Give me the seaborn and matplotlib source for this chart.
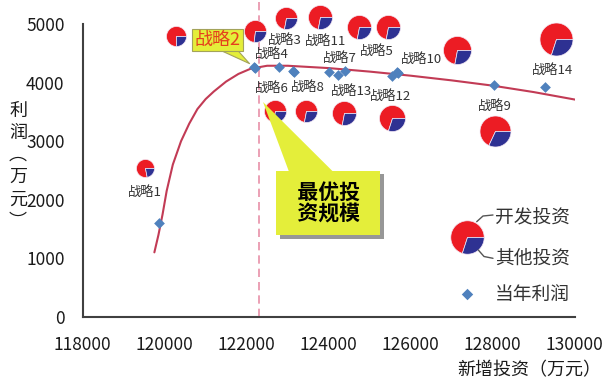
import numpy as np
import matplotlib
matplotlib.use("Agg")
import matplotlib.pyplot as plt
from matplotlib.path import Path
from matplotlib import patheffects
import seaborn as sns

# 当年利润 (diamonds) for each strategy
strategies = ["战略1", "战略2", "战略3", "战略4", "战略5", "战略6", "战略7",
	"战略8", "战略9", "战略10", "战略11", "战略12", "战略13", "战略14"]
invest = [119870, 122180, 122790, 122200, 125660, 123140, 124400,
	123150, 128040, 125700, 124010, 125540, 124230, 129280]
profit = [1600, 4270, 4270, 4260, 4190, 4200, 4200,
	4190, 3960, 4170, 4190, 4110, 4130, 3920]

# label anchor for each strategy name (same order as strategies)
label_x = [119520, 121290, 122940, 122610, 125170, 122610, 124280,
	123500, 128060, 126270, 123930, 125500, 124570, 129470]
label_y = [2115, 4730, 4730, 4490, 4530, 3905, 4420,
	3910, 3600, 4390, 4700, 3760, 3845, 4215]

# investment pies: position, relative total, share of 其他投资
pie_x = [119520, 120280, 122200, 122970, 123800, 124750, 125450,
	127140, 129540, 128060, 122690, 123460, 124380, 125540]
pie_y = [2540, 4800, 4880, 5100, 5120, 4960, 4960,
	4560, 4740, 3180, 3520, 3520, 3480, 3390]
pie_total = [9, 10, 11, 11, 12, 12, 12, 14, 16.5, 15.5, 11, 11, 12, 13]
other_share = [0.22, 0.25, 0.27, 0.28, 0.28, 0.28, 0.28,
	0.28, 0.30, 0.32, 0.28, 0.28, 0.28, 0.30]

# fitted profit curve
trend_x = [119750, 119850, 119950, 120050, 120200, 120400, 120600, 120800,
	121000, 121200, 121500, 121800, 122100, 122500, 123000, 124000,
	125000, 126000, 127000, 128000, 129000, 130100]
trend_y = [1100, 1400, 1750, 2150, 2600, 3000, 3300, 3550,
	3720, 3850, 4020, 4150, 4240, 4290, 4290, 4250,
	4190, 4120, 4040, 3950, 3840, 3700]

optimum_x = 122300
optimum_tip = (122400, 3670)
optimum_box = (123990, 1940)
s2_box = (121290, 4730)

RED = "#ec1c24"
BLUE = "#2e3192"
YELLOW = "#e4ee3a"
DARK = "#333333"

sns.set_style("white")
plt.rcParams["font.family"] = ["Noto Sans CJK SC", "DejaVu Sans"]
plt.rcParams["axes.unicode_minus"] = False


def wedge_marker(a0, a1):
	t = np.radians(np.linspace(a0, a1, 80))
	verts = np.vstack([[0, 0], np.column_stack([np.cos(t), np.sin(t)]), [0, 0]])
	return Path(verts, closed=True)


def draw_pie(ax, x, y, radius_px, share, **kw):
	s = (2 * radius_px * 0.72) ** 2
	cut = 360 * share
	ax.scatter([x], [y], marker=wedge_marker(0, 360 - cut), s=s, color=RED,
		edgecolor="#f4e8f4", linewidth=0.5, zorder=3, **kw)
	ax.scatter([x], [y], marker=wedge_marker(-cut, 0), s=s, color=BLUE,
		edgecolor="#f4e8f4", linewidth=0.5, zorder=3, **kw)


fig = plt.figure(figsize=(6.03, 3.79), dpi=100)
ax = fig.add_axes([0.137, 0.1644, 0.816, 0.8356])

ax.axvline(optimum_x, color="#e890a8", lw=1.2, ls=(0, (5, 3)), zorder=1)
sns.lineplot(x=trend_x, y=trend_y, color="#c23b55", lw=1.5, ax=ax, zorder=2)

for px_, py_, r, sh in zip(pie_x, pie_y, pie_total, other_share):
	draw_pie(ax, px_, py_, r, sh, clip_on=False)

sns.scatterplot(x=invest, y=profit, marker="D", s=30, color="#4f81bd",
	edgecolor="#4f81bd", linewidth=0, ax=ax, zorder=4)

for i, name in enumerate(strategies):
	if name == "战略2":
		continue
	ax.text(label_x[i], label_y[i], name, ha="center", va="center",
		fontsize=9.5, color=DARK, zorder=5)

# callouts
ax.annotate("战略2", xy=(invest[1], profit[1]), xytext=s2_box,
	ha="center", va="center", fontsize=13, color="#e5401d", zorder=6,
	bbox=dict(boxstyle="square,pad=0.12", fc=YELLOW, ec="#a3a35a", lw=0.8),
	arrowprops=dict(arrowstyle="wedge,tail_width=12,shrink_factor=0.5",
		mutation_scale=1, fc=YELLOW, ec="#a3a35a", lw=0.8,
		patchA=None, shrinkA=0, shrinkB=4))

opt = ax.annotate("\u2002最优投\u2002\n\u2002资规模\u2002", xy=optimum_tip, xytext=optimum_box,
	ha="center", va="center", fontsize=15, fontweight="bold", color="black",
	linespacing=1.1, zorder=6,
	bbox=dict(boxstyle="square,pad=0.5", fc=YELLOW, ec="none"),
	arrowprops=dict(arrowstyle="wedge,tail_width=38,shrink_factor=0.5",
		mutation_scale=1, fc=YELLOW, ec="none",
		patchA=None, shrinkA=0, shrinkB=0))
opt.get_bbox_patch().set_path_effects([
	patheffects.withSimplePatchShadow(offset=(2.5, -2.5), shadow_rgbFace="#8c8c8c", alpha=0.9)])

# axes styling
ax.set_xlim(118000, 130000)
ax.set_ylim(0, 5414)
ax.set_xticks(np.arange(118000, 130001, 2000))
ax.set_yticks(np.arange(0, 5001, 1000))
ax.ticklabel_format(useOffset=False, style="plain")
ax.spines["left"].set_bounds(0, 5000)
for side in ["top", "right"]:
	ax.spines[side].set_visible(False)
for side in ["left", "bottom"]:
	ax.spines[side].set_color("#404040")
	ax.spines[side].set_linewidth(1.5)
ax.tick_params(direction="out", length=4, width=1.5, color="#404040",
	labelsize=12.5, labelcolor="#1a1a1a")
ax.tick_params(axis="x", pad=10)
ax.tick_params(axis="y", pad=9)
ax.set_xlabel("")
ax.set_ylabel("")


def fpx(x, y):
	return x / 603, 1 - y / 379


fig.text(*fpx(18, 166), "利\n润\n︵\n万\n元\n︶", ha="center", va="center",
	fontsize=13, linespacing=1.3, color="#1a1a1a")
fig.text(*fpx(601, 370), "新增投资（万元）", ha="right", va="center",
	fontsize=13, color="#1a1a1a")

# legend drawn by hand
lx, ly = fpx(466.7, 236.7)
draw_pie(ax, lx, ly, 16.7, 0.30, transform=fig.transFigure, clip_on=False)
dx, dy = fpx(466.7, 294)
ax.scatter([dx], [dy], marker="D", s=34, color="#4f81bd", linewidth=0,
	transform=fig.transFigure, clip_on=False, zorder=4)
for txt, yy in [("开发投资", 218.3), ("其他投资", 258.3), ("当年利润", 294)]:
	fig.text(*fpx(495, yy), txt, ha="left", va="center", fontsize=13.5, color=DARK)
for pts in [[(476.7, 221.7), (483, 216), (493, 215)],
		[(478.3, 250), (484, 256.5), (493, 258.3)]]:
	xs, ys = zip(*[fpx(a, b) for a, b in pts])
	fig.add_artist(plt.Line2D(xs, ys, color="#555555", lw=1.0, transform=fig.transFigure))

fig.savefig("out.png", dpi=100)
